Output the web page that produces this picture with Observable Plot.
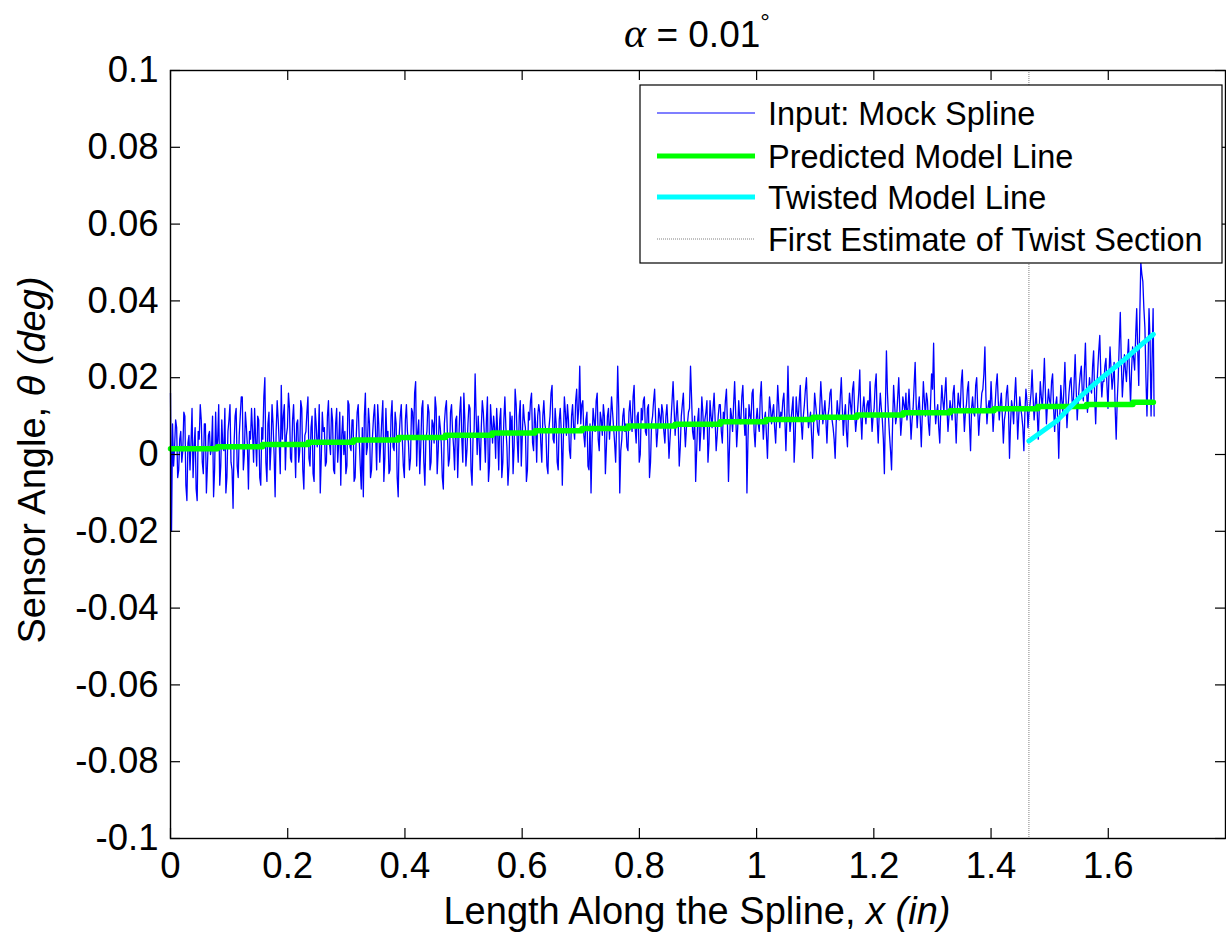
<!DOCTYPE html>
<html><head><meta charset="utf-8">
<script src="https://cdn.jsdelivr.net/npm/d3@7"></script>
<script src="https://cdn.jsdelivr.net/npm/@observablehq/plot@0.6"></script>
<style>
body{margin:0;background:#fff;}
svg{font-family:"Liberation Sans",Arial,sans-serif;}
</style>
</head><body><div id="chart"></div>
<script>
// Input: Mock Spline, sampled on a uniform grid in x (in)
const inputX0 = 0;
const inputStep = 0.00175;
const inputValues = [
0.016,-0.020,0.008,-0.003,0.002,0.009,0.007,-0.006,-0.004,0.004,0.006,-0.002,0.001,0.011,0.010,-0.008,-0.012,0.003,0.005,-0.004,
0.003,0.012,-0.006,0.002,0.007,-0.009,-0.012,0.006,0.004,0.013,0.009,-0.002,-0.005,0.008,0.008,-0.010,-0.003,0.005,0.006,0.000,
0.002,0.010,-0.011,-0.004,0.011,0.001,0.004,0.013,-0.008,-0.003,0.009,0.002,0.001,0.012,-0.010,-0.006,0.006,0.009,0.013,-0.002,
-0.004,-0.014,0.003,0.010,0.012,-0.003,-0.006,0.005,0.010,0.015,0.015,-0.004,0.000,0.011,0.007,0.002,-0.009,0.006,0.004,0.012,
0.006,-0.002,0.012,0.004,-0.003,0.010,0.009,-0.006,-0.008,0.007,0.004,0.015,0.020,-0.002,-0.007,0.008,0.011,-0.004,0.002,0.013,
0.008,0.000,-0.011,0.006,0.014,0.009,0.003,-0.005,0.018,0.004,0.010,0.013,-0.004,0.005,0.007,0.016,0.012,-0.001,-0.002,0.009,
0.013,0.004,-0.006,0.008,0.009,-0.002,0.001,0.014,0.012,-0.004,-0.009,0.005,0.006,0.011,0.015,-0.001,-0.003,0.007,0.010,-0.005,
-0.007,0.012,0.008,0.002,0.004,0.013,-0.010,-0.001,0.011,0.006,0.007,-0.003,-0.002,0.010,0.014,0.003,0.000,0.012,0.009,-0.004,
-0.005,0.008,0.012,-0.002,0.003,0.011,-0.008,0.005,0.010,0.000,0.006,-0.005,-0.003,0.014,0.013,0.002,0.001,0.009,0.009,-0.007,
-0.006,0.004,0.011,0.013,0.004,-0.003,-0.009,0.007,-0.011,0.010,0.016,0.000,0.002,0.012,0.008,-0.006,-0.004,0.005,0.010,0.013,
0.005,-0.004,0.013,0.008,-0.002,0.003,0.009,0.014,-0.007,-0.001,0.012,0.004,0.006,-0.005,-0.004,0.010,0.014,0.002,0.001,0.011,
0.008,-0.006,-0.011,0.005,0.010,0.013,0.004,-0.003,-0.006,0.009,0.013,0.006,0.003,-0.004,-0.001,0.012,0.011,0.004,0.016,0.019,
-0.003,0.006,0.009,-0.005,0.002,0.012,0.014,-0.002,-0.008,0.004,0.006,0.013,0.011,-0.004,-0.002,0.009,0.008,0.003,0.015,0.012,
-0.005,0.001,0.010,0.007,0.003,-0.006,-0.009,0.008,0.012,0.014,0.005,-0.003,-0.001,0.011,0.013,0.006,0.002,-0.004,0.009,0.010,
-0.006,0.003,0.011,0.015,0.004,-0.002,0.016,0.009,-0.003,0.001,0.008,0.013,0.012,-0.004,-0.008,0.005,0.006,0.021,0.010,0.000,
0.010,0.003,-0.004,0.007,0.014,0.011,0.005,-0.002,0.009,0.015,-0.007,-0.003,0.013,0.008,0.003,0.010,0.007,-0.001,0.012,0.006,
-0.004,0.009,0.012,-0.006,-0.002,0.009,0.015,0.007,0.002,-0.008,-0.003,0.011,0.006,0.010,-0.005,0.002,0.017,0.013,0.004,-0.002,
0.010,0.014,-0.003,0.005,0.013,0.009,0.007,-0.007,-0.004,0.011,0.009,0.014,0.016,0.003,0.001,0.012,0.008,-0.002,0.010,0.013,
0.011,0.003,-0.002,0.010,0.014,0.008,0.006,-0.003,-0.005,0.007,0.010,0.016,0.018,0.004,0.003,0.012,0.008,-0.002,-0.004,0.009,
0.012,0.006,-0.008,0.004,0.015,0.011,0.005,0.013,0.009,0.001,-0.001,0.010,0.013,0.007,0.004,0.014,0.017,0.008,0.012,0.023,
0.008,0.013,0.014,0.005,0.002,0.009,0.011,-0.003,-0.004,0.008,-0.010,0.003,0.012,0.009,0.006,0.014,0.016,0.004,0.001,0.011,
0.009,0.005,0.013,0.010,-0.005,0.002,0.010,0.012,0.004,0.009,0.015,0.011,0.007,0.003,-0.002,0.008,0.023,0.012,-0.010,0.001,
0.004,0.010,0.012,0.006,0.008,0.002,0.001,0.011,0.014,0.009,0.006,0.015,0.018,0.007,0.003,0.010,0.011,-0.002,0.000,0.012,
0.009,0.014,0.015,0.006,0.005,0.012,0.013,-0.006,-0.002,0.008,0.010,0.014,0.017,0.009,0.002,0.006,0.012,0.010,0.007,0.013,
0.011,0.006,0.003,0.010,0.013,0.007,-0.001,0.004,0.009,0.014,0.019,0.012,0.005,0.010,0.014,0.008,-0.003,0.002,0.010,0.013,
0.016,0.008,0.002,0.007,0.008,0.011,0.012,0.023,0.015,0.006,0.004,0.010,-0.007,0.001,0.009,0.012,0.001,0.006,0.015,0.011,
0.004,0.009,0.011,0.014,-0.002,0.003,0.014,0.010,0.007,0.012,0.016,0.009,0.001,0.005,0.010,0.013,0.013,0.006,0.003,0.011,
0.009,0.014,0.017,0.008,-0.007,0.002,0.012,0.010,0.006,0.013,0.019,0.011,0.002,0.007,0.014,0.009,0.008,0.015,0.018,0.010,
0.005,0.012,-0.010,0.004,0.013,0.010,0.009,0.016,0.017,0.006,0.002,0.009,0.012,0.008,0.006,0.015,0.019,0.010,0.004,0.009,
0.011,0.005,-0.001,0.008,0.015,0.012,0.008,0.011,0.013,0.007,0.003,0.010,0.018,0.013,0.007,0.011,0.010,0.014,0.016,0.009,
0.001,0.010,0.023,0.011,0.006,0.009,0.012,0.015,-0.002,0.004,0.015,0.011,0.009,0.014,0.018,0.008,0.004,0.010,0.013,0.017,
0.020,0.012,0.007,0.009,0.011,0.005,-0.001,0.008,0.016,0.013,0.010,0.006,0.005,0.012,0.019,0.014,0.008,0.011,0.014,0.009,
0.003,0.010,0.012,0.016,0.017,0.009,0.007,0.004,-0.001,0.008,0.014,0.011,0.009,0.015,0.020,0.012,0.005,0.010,0.013,0.006,
0.002,0.011,0.016,0.013,0.010,0.017,0.019,0.011,0.006,0.009,0.012,0.016,0.022,0.010,0.004,0.012,0.015,0.011,0.008,0.013,
0.014,0.010,0.019,0.012,0.006,0.010,0.012,0.018,0.021,0.009,0.003,0.011,0.016,0.012,0.009,0.004,-0.005,0.012,0.027,0.016,
0.010,0.005,0.001,-0.004,0.008,0.018,0.013,0.008,0.010,0.015,0.020,0.012,0.005,0.009,0.015,0.013,0.011,0.016,0.009,0.012,
0.017,0.011,0.004,0.009,0.012,0.018,0.024,0.013,0.007,0.012,0.015,0.009,0.002,0.011,0.019,0.014,0.010,0.016,0.014,0.008,
0.005,0.013,0.021,0.017,0.029,0.013,0.008,0.011,0.013,0.007,0.003,0.012,0.018,0.014,0.011,0.016,0.020,0.012,0.006,0.010,
0.014,0.012,0.009,0.016,0.018,0.010,0.003,0.011,0.016,0.013,0.012,0.019,0.022,0.013,0.006,0.011,0.013,0.017,0.019,0.008,
0.001,0.012,0.015,0.011,0.010,0.018,0.020,0.012,0.005,0.010,0.012,0.016,0.017,0.021,0.028,0.015,0.008,0.012,0.014,0.011,
0.019,0.013,0.006,0.011,0.013,0.018,0.021,0.014,0.009,0.013,0.016,0.010,0.003,0.009,0.011,0.016,0.018,0.012,-0.001,0.008,
0.014,0.012,0.008,0.015,0.020,0.013,0.004,0.010,0.015,0.012,0.010,0.007,0.001,0.011,0.017,0.014,0.007,0.011,0.013,0.016,
0.022,0.015,0.009,0.013,0.016,0.011,0.004,0.012,0.019,0.015,0.012,0.018,0.025,0.016,0.008,0.013,0.017,0.014,0.013,0.019,
0.021,0.012,0.006,0.013,0.015,0.009,-0.001,0.010,0.018,0.014,0.011,0.017,0.024,0.015,0.007,0.012,0.016,0.019,0.020,0.014,
0.012,0.019,0.026,0.017,0.009,0.014,0.018,0.021,0.023,0.016,0.014,0.022,0.029,0.018,0.011,0.016,0.020,0.017,0.016,0.023,
0.027,0.015,0.008,0.017,0.022,0.027,0.031,0.021,0.015,0.019,0.019,0.023,0.025,0.018,0.012,0.021,0.028,0.022,0.017,0.020,
0.024,0.012,0.004,0.014,0.020,0.029,0.037,0.024,0.015,0.020,0.026,0.022,0.019,0.025,0.030,0.021,0.013,0.022,0.028,0.025,
0.022,0.031,0.038,0.027,0.018,0.036,0.050,0.047,0.045,0.038,0.033,0.020,0.010,0.022,0.038,0.030,0.010,0.025,0.038,0.010
];

// Predicted Model Line (stepwise)
const modelX = [0,0.080,0.157,0.235,0.312,0.389,0.469,0.549,0.622,0.702,0.781,0.861,0.938,1.016,1.096,1.171,1.250,1.330,1.405,1.480,1.563,1.642,1.677];
const modelValues = [0.0015,0.0020,0.0026,0.0032,0.0038,0.0044,0.0050,0.0056,0.0062,0.0068,0.0074,0.0079,0.0085,0.0091,0.0097,0.0103,0.0109,0.0114,0.0119,0.0125,0.0130,0.0136,0.0136];

// Twisted Model Line
const twistX = [1.4646,1.512,1.552,1.586,1.625,1.654,1.677];
const twistValues = [0.0035,0.0087,0.0150,0.0196,0.0244,0.0283,0.0313];

// First Estimate of Twist Section
const twistEstimateX = [1.4646];

const xTicks = [0,0.2,0.4,0.6,0.8,1,1.2,1.4,1.6];
const xTickLabels = ["0","0.2","0.4","0.6","0.8","1","1.2","1.4","1.6"];
const yTicks = [-0.1,-0.08,-0.06,-0.04,-0.02,0,0.02,0.04,0.06,0.08,0.1];
const yTickLabels = ["-0.1","-0.08","-0.06","-0.04","-0.02","0","0.02","0.04","0.06","0.08","0.1"];

const seriesNames = ["Input: Mock Spline","Predicted Model Line","Twisted Model Line","First Estimate of Twist Section"];

const W = 1226, H = 934, mL = 170, mR = 1, mT = 70, mB = 96;
const frameW = W - mL - mR, frameH = H - mT - mB;
const TL = 10;

const input = inputValues.map((v, i) => ({x: inputX0 + i * inputStep, y: v}));
const model = modelX.map((x, i) => ({x, y: modelValues[i]}));
const twist = twistX.map((x, i) => ({x, y: twistValues[i]}));

const svg = Plot.plot({
  width: W, height: H,
  marginLeft: mL, marginRight: mR, marginTop: mT, marginBottom: mB,
  x: {domain: [0, 1.8]},
  y: {domain: [-0.1, 0.1]},
  style: {fontFamily: '"Liberation Sans", Arial, sans-serif', background: "white", color: "black"},
  marks: [
    Plot.ruleX(twistEstimateX, {stroke: "#808080", strokeWidth: 1, strokeDasharray: "1,1"}),
    Plot.line(input, {x: "x", y: "y", stroke: "#0000ff", strokeWidth: 1.3}),
    Plot.line(model, {x: "x", y: "y", stroke: "#00ff00", strokeWidth: 5.5, curve: "step-after"}),
    Plot.line(twist, {x: "x", y: "y", stroke: "#00ffff", strokeWidth: 5}),
    Plot.tickX(xTicks, {x: d => d, insetTop: frameH - TL, stroke: "black", strokeWidth: 1.2}),
    Plot.tickX(xTicks, {x: d => d, insetBottom: frameH - TL, stroke: "black", strokeWidth: 1.2}),
    Plot.tickY(yTicks, {y: d => d, insetRight: frameW - TL, stroke: "black", strokeWidth: 1.2}),
    Plot.tickY(yTicks, {y: d => d, insetLeft: frameW - TL, stroke: "black", strokeWidth: 1.2}),
    Plot.frame({stroke: "black", strokeWidth: 1.4}),
    Plot.axisX(xTicks, {tickSize: 0, tickPadding: 14, fontSize: 36.5, label: null,
      tickFormat: d => xTickLabels[xTicks.indexOf(d)]}),
    Plot.axisY(yTicks, {tickSize: 0, tickPadding: 12, fontSize: 36.5, label: null,
      tickFormat: d => yTickLabels[yTicks.indexOf(d)]})
  ]
});

const s = d3.select(svg);
s.style("overflow", "visible");

// Title
const title = s.append("text").attr("x", 697).attr("y", 47).attr("text-anchor", "middle")
  .attr("font-size", 37).attr("fill", "black");
title.append("tspan").attr("font-family", '"Liberation Serif", serif').attr("font-style", "italic")
  .attr("font-size", 42).text("α");
title.append("tspan").text(" = 0.01");
title.append("tspan").attr("font-size", 24).attr("dy", -17).text("°");

// X label
const xl = s.append("text").attr("x", 697).attr("y", 924).attr("text-anchor", "middle")
  .attr("font-size", 38).attr("fill", "black");
xl.append("tspan").text("Length Along the Spline, ");
xl.append("tspan").attr("font-style", "italic").text("x (in)");

// Y label
const yl = s.append("text").attr("transform", "translate(45,460) rotate(-90)").attr("text-anchor", "middle")
  .attr("font-size", 38).attr("fill", "black");
yl.append("tspan").text("Sensor Angle, ");
yl.append("tspan").attr("font-style", "italic").text("θ (deg)");

// Legend
const lg = s.append("g");
lg.append("rect").attr("x", 640).attr("y", 85).attr("width", 582).attr("height", 178)
  .attr("fill", "white").attr("stroke", "black").attr("stroke-width", 1.2);
const legendStyles = [
  {stroke: "#0000ff", width: 1.1, dash: null},
  {stroke: "#00ff00", width: 5, dash: null},
  {stroke: "#00ffff", width: 5, dash: null},
  {stroke: "#808080", width: 1, dash: "1,1"}
];
const rowY = [113, 156, 197, 239];
seriesNames.forEach((name, i) => {
  const st = legendStyles[i];
  const ln = lg.append("line").attr("x1", 657).attr("x2", 755).attr("y1", rowY[i]).attr("y2", rowY[i])
    .attr("stroke", st.stroke).attr("stroke-width", st.width);
  if (st.dash) ln.attr("stroke-dasharray", st.dash);
  lg.append("text").attr("x", 768).attr("y", rowY[i]).attr("dy", "0.36em")
    .attr("text-anchor", "start").attr("font-size", 32.5).attr("fill", "black").text(name);
});

document.getElementById("chart").appendChild(svg);
</script>
</body></html>
